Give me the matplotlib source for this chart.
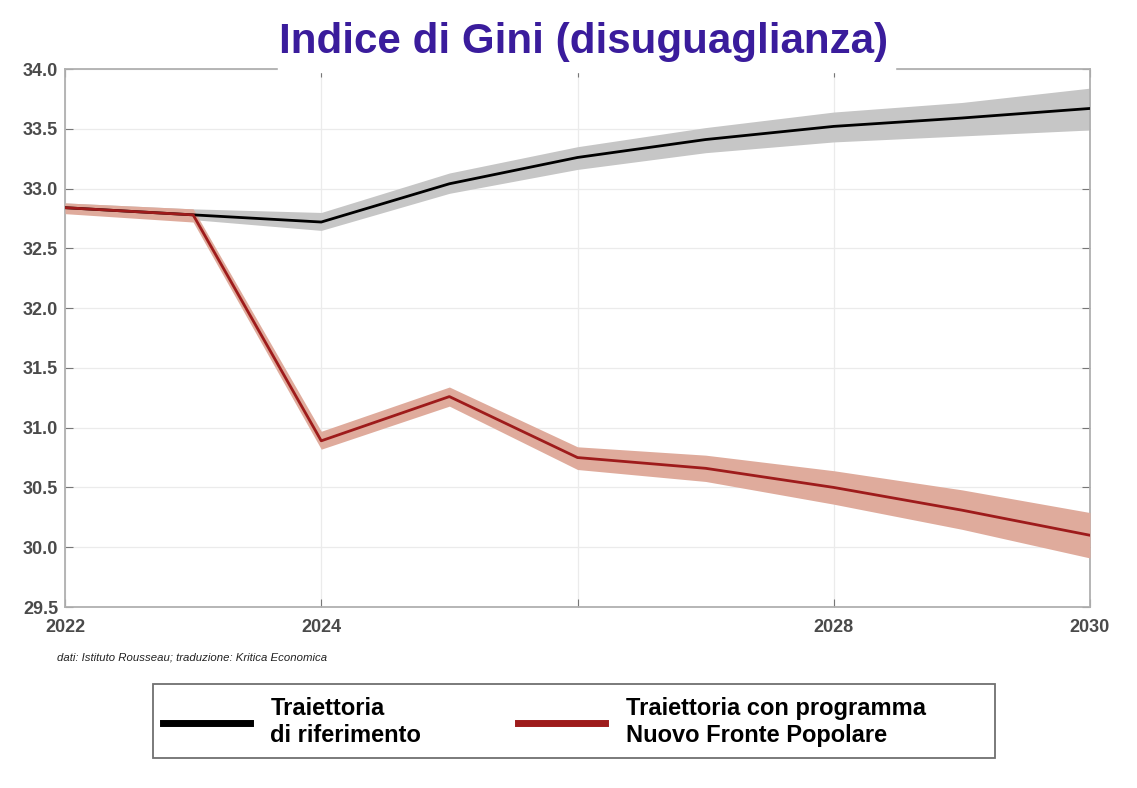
import matplotlib
matplotlib.use("Agg")
import matplotlib.pyplot as plt
from matplotlib.lines import Line2D
from matplotlib.patches import Rectangle

plt.rcParams['font.family'] = ['Liberation Sans', 'DejaVu Sans']

years = [2022, 2023, 2024, 2025, 2026, 2027, 2028, 2029, 2030]

# traiettoria di riferimento
ref = [32.84, 32.78, 32.72, 33.04, 33.26, 33.41, 33.52, 33.59, 33.67]
ref_lo = [32.80, 32.74, 32.65, 32.96, 33.16, 33.30, 33.39, 33.44, 33.49]
ref_hi = [32.88, 32.83, 32.80, 33.13, 33.35, 33.51, 33.64, 33.72, 33.84]

# traiettoria con programma NFP
nfp = [32.84, 32.78, 30.89, 31.26, 30.75, 30.66, 30.50, 30.31, 30.10]
nfp_lo = [32.79, 32.72, 30.82, 31.18, 30.65, 30.55, 30.36, 30.15, 29.91]
nfp_hi = [32.88, 32.83, 30.97, 31.34, 30.84, 30.77, 30.64, 30.48, 30.29]

xticks = [2022, 2024, 2026, 2028, 2030]
xlabels = ['2022', '2024', '', '2028', '2030']
yticks = [29.5, 30.0, 30.5, 31.0, 31.5, 32.0, 32.5, 33.0, 33.5, 34.0]

title = "Indice di Gini (disuguaglianza)"
source = "dati: Istituto Rousseau; traduzione: Kritica Economica"
lab_ref = "Traiettoria\ndi riferimento"
lab_nfp = "Traiettoria con programma\nNuovo Fronte Popolare"

black = "#000000"
red = "#9e1b1b"
grey_band = "#c6c6c6"
red_band = "#dfab9c"
tick_col = "#4a4a4a"

fig = plt.figure(figsize=(11.37, 7.88), dpi=100)
ax = fig.add_axes([65/1137, 1-607/788, (1090-65)/1137, (607-69)/788])

ax.fill_between(years, ref_lo, ref_hi, color=grey_band, lw=0, zorder=2)
ax.fill_between(years, nfp_lo, nfp_hi, color=red_band, lw=0, zorder=3)
ax.plot(years, ref, color=black, lw=2, zorder=4)
ax.plot(years, nfp, color=red, lw=2, zorder=5)

ax.set_xlim(2022, 2030)
ax.set_ylim(29.5, 34.0)
ax.set_xticks(xticks)
ax.set_xticklabels(xlabels)
ax.set_yticks(yticks)
ax.set_yticklabels([f"{v:.1f}" for v in yticks])
ax.grid(True, color="#ebebeb", lw=0.9, zorder=0)
ax.set_axisbelow(True)
ax.tick_params(direction='in', length=6, width=0.8, color="#777777",
               top=True, right=True, labelsize=13, labelcolor=tick_col)
ax.tick_params(axis='x', pad=9)
ax.tick_params(axis='y', pad=5)
for lab in ax.get_xticklabels() + ax.get_yticklabels():
    lab.set_fontweight('bold')
for s in ax.spines.values():
    s.set_color("#b0b0b0")
    s.set_linewidth(1.3)

# title covers part of the top frame
fig.patches.append(Rectangle((278/1137, 1-72/788), (895-278)/1137, 7/788,
                             transform=fig.transFigure, color="white", zorder=5))
fig.text(584/1137, 1-42/788, title, ha='center', va='center', fontsize=30.3,
         fontweight='bold', color="#3a1c9c", zorder=6)

fig.text(57/1137, 1-658/788, source, ha='left', va='center', fontsize=8.2,
         style='italic', color="#222222")

# legend box
fig.patches.append(Rectangle((153/1137, 1-758/788), (995-153)/1137, (758-684)/788,
                             transform=fig.transFigure, facecolor="white",
                             edgecolor="#707070", lw=1.3, zorder=1))
handles = [Line2D([], [], color=black, lw=5), Line2D([], [], color=red, lw=5)]
leg = fig.legend(handles, [lab_ref, lab_nfp], loc='center left', ncol=2,
                 bbox_to_anchor=(163/1137, 1-722/788),
                 prop={'weight': 'bold', 'size': 17},
                 handlelength=3.7, handletextpad=0.85, columnspacing=4.1,
                 borderpad=0, borderaxespad=0, frameon=False)
leg.set_zorder(3)

plt.savefig("out.png", dpi=100)
